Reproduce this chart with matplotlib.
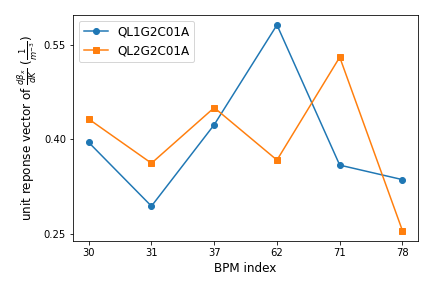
import numpy as np
import matplotlib
matplotlib.use("Agg")
import matplotlib.pyplot as plt

# BPM indices used as categorical tick labels
bpm_labels = ["30", "31", "37", "62", "71", "78"]

# response values
ql1g2c01a = [0.395, 0.294, 0.423, 0.581, 0.359, 0.336]
ql2g2c01a = [0.432, 0.362, 0.450, 0.367, 0.530, 0.255]

plt.rcParams["font.size"] = 12
plt.rcParams["xtick.labelsize"] = 10
plt.rcParams["ytick.labelsize"] = 10

fig, ax = plt.subplots(figsize=(6, 4), dpi=72)
x = np.arange(len(bpm_labels))

ax.plot(x, ql1g2c01a, marker="o", label="QL1G2C01A")
ax.plot(x, ql2g2c01a, marker="s", label="QL2G2C01A")

ax.set_xticks(x)
ax.set_xticklabels(bpm_labels)
ax.set_yticks([0.25, 0.40, 0.55])
ax.set_xlabel("BPM index")
ax.set_ylabel(r"unit reponse vector of $\frac{d\beta_x}{dK}$ $(\frac{1}{m^{-3}})$")
ax.legend(loc="upper left")

fig.subplots_adjust(left=0.169, right=0.968, top=0.949, bottom=0.163)
fig.savefig("out.png", dpi=72)
